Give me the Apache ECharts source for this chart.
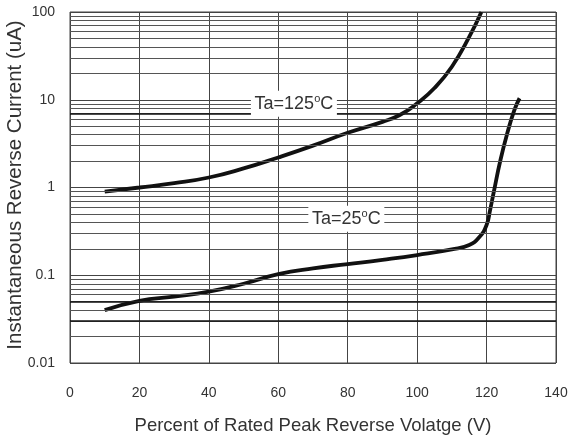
<!DOCTYPE html>
<html>
<head>
<meta charset="utf-8">
<script src="https://cdn.jsdelivr.net/npm/echarts@6/dist/echarts.min.js"></script>
<style>
  html, body { margin: 0; padding: 0; background: #fff; }
  #chart { width: 569px; height: 440px; }
</style>
</head>
<body>
<div id="chart"></div>
<script>
// 数据
var hotX = [10, 20, 30, 40, 50, 60, 70, 80, 90, 95, 100, 105, 110, 115, 118.5];
var hotY = [0.9, 1.0, 1.12, 1.3, 1.65, 2.2, 3.0, 4.2, 5.6, 6.7, 9.1, 13.6, 23.8, 52, 100];
var coldX = [10, 20, 30, 40, 50, 60, 70, 80, 90, 100, 110, 115, 118, 120, 121, 122, 124, 126, 128, 129.5];
var coldY = [0.04, 0.051, 0.057, 0.065, 0.08, 0.103, 0.12, 0.134, 0.15, 0.17, 0.197, 0.221, 0.275, 0.374, 0.55, 0.86, 2.06, 4.2, 7.6, 10.4];
var xTicks = [0, 20, 40, 60, 80, 100, 120, 140];
var yTicks = [0.01, 0.1, 1, 10, 100];
var minorMult = [2, 3, 4, 5, 6, 7, 8, 9];
var boldLines = [7, 0.05, 0.03]; // 原图里颜色较深的几条

function pairs(xs, ys) {
    return xs.map(function (x, i) { return [x, ys[i]]; });
}

// 次网格线 (2..9 x 每个十进位)
var minorLines = [];
yTicks.slice(0, -1).forEach(function (d) {
    minorMult.forEach(function (m) {
        minorLines.push({ yAxis: +(d * m).toPrecision(3) });
    });
});
boldLines.forEach(function (v) {
    minorLines.push({ yAxis: v, lineStyle: { color: '#111', width: 1.6 } });
});

var chart = echarts.init(document.getElementById('chart'));

var font = 'Liberation Sans, Arial, sans-serif';

function tagLabel(txt) {
    return {
        show: true,
        formatter: '{n|' + txt + '}{s|o}{n|C}',
        rich: {
            n: { fontFamily: font, fontSize: 18, color: '#333' },
            s: { fontFamily: font, fontSize: 11, color: '#333', verticalAlign: 'top', padding: [0, 0, 9, 0] }
        }
    };
}

var option = {
    animation: false,
    grid: {
        left: 70, right: 13, top: 12, bottom: 77,
        containLabel: false,
        outerBoundsMode: 'none',
        show: true,
        borderColor: '#444',
        borderWidth: 1
    },
    xAxis: {
        type: 'value',
        min: 0, max: 140, interval: 20,
        name: 'Percent of Rated Peak Reverse Volatge (V)',
        nameLocation: 'middle',
        nameGap: 53,
        nameTextStyle: { fontFamily: font, fontSize: 18.5, color: '#333' },
        axisLine: { show: false },
        axisTick: { show: false },
        axisLabel: { fontFamily: font, fontSize: 14, color: '#333', margin: 23 },
        splitLine: { show: true, lineStyle: { color: '#444', width: 1 } }
    },
    yAxis: {
        type: 'log',
        logBase: 10,
        min: 0.01, max: 100,
        name: 'Instantaneous Reverse Current (uA)',
        nameLocation: 'middle',
        nameGap: 44,
        nameMoveOverlap: false,
        nameTextStyle: { fontFamily: font, fontSize: 20.5, color: '#333', padding: [0, 0, 0, 5] },
        axisLine: { show: false },
        axisTick: { show: false },
        axisLabel: {
            fontFamily: font, fontSize: 14, color: '#333', margin: 15,
            formatter: function (v) { return String(+v.toPrecision(3)); }
        },
        splitLine: { show: true, lineStyle: { color: '#444', width: 1 } }
    },
    series: [{
        type: 'line',
        data: [],
        silent: true,
        markLine: {
            silent: true,
            symbol: 'none',
            label: { show: false },
            lineStyle: { color: '#555', width: 1, type: 'solid' },
            data: minorLines
        }
    }, {
        name: 'Ta=125°C',
        type: 'line',
        smooth: true,
        symbol: 'none',
        lineStyle: { color: '#111', width: 3.8 },
        data: pairs(hotX, hotY),
        markPoint: {
            symbol: 'rect',
            symbolSize: [86, 26],
            itemStyle: { color: '#fff' },
            label: tagLabel('Ta=125'),
            data: [{ coord: [64.5, 9.0] }]
        }
    }, {
        name: 'Ta=25°C',
        type: 'line',
        smooth: true,
        symbol: 'none',
        lineStyle: { color: '#111', width: 3.8 },
        data: pairs(coldX, coldY),
        markPoint: {
            symbol: 'rect',
            symbolSize: [76, 26],
            itemStyle: { color: '#fff' },
            label: tagLabel('Ta=25'),
            data: [{ coord: [79.6, 0.44] }]
        }
    }]
};

chart.setOption(option);
</script>
</body>
</html>
